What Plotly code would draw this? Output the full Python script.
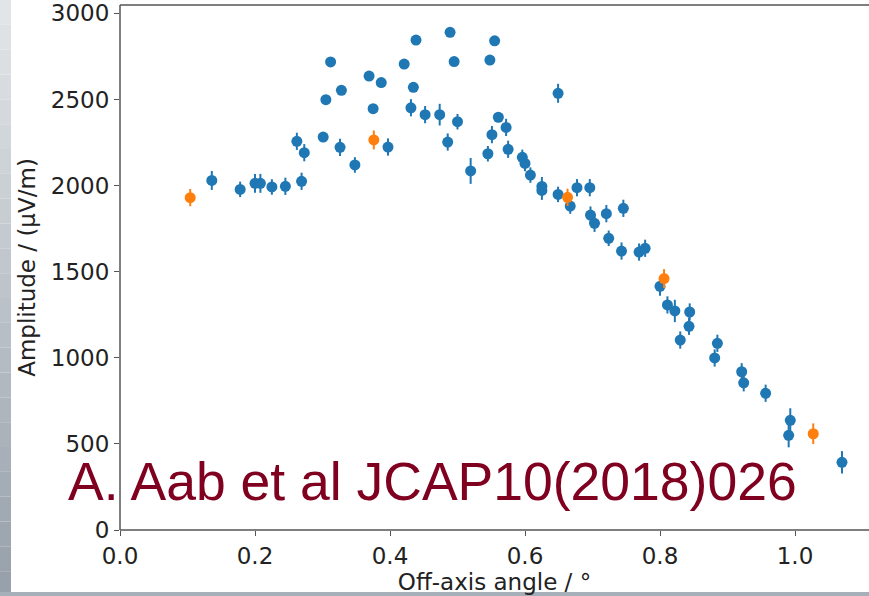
import plotly.graph_objects as go

# ---- data ----
x_blue = [0.136, 0.178, 0.200, 0.208, 0.225, 0.245, 0.269, 0.262, 0.273, 0.301,
          0.305, 0.312, 0.326, 0.328, 0.348, 0.369, 0.375, 0.387, 0.397, 0.421,
          0.431, 0.4346, 0.4385, 0.452, 0.4736, 0.4855, 0.489, 0.495, 0.500, 0.5195,
          0.545, 0.548, 0.551, 0.555, 0.5605, 0.572, 0.575, 0.596, 0.600, 0.608,
          0.625, 0.625, 0.649, 0.649, 0.667, 0.677, 0.696, 0.697, 0.703, 0.7205,
          0.724, 0.743, 0.7457, 0.769, 0.778, 0.800, 0.811, 0.822, 0.830, 0.843,
          0.844, 0.881, 0.885, 0.921, 0.924, 0.9565, 0.9906, 0.993, 1.0696]
y_blue = [2030, 1978, 2013, 2013, 1992, 1996, 2025, 2257, 2191, 2282,
          2499, 2718, 2222, 2553, 2120, 2636, 2447, 2598, 2224, 2706,
          2452, 2571, 2845, 2412, 2412, 2253, 2890, 2720, 2371, 2085,
          2185, 2729, 2296, 2841, 2397, 2338, 2211, 2164, 2129, 2061,
          1995, 1972, 2536, 1949, 1881, 1988, 1988, 1829, 1781, 1837,
          1694, 1620, 1868, 1614, 1636, 1415, 1307, 1272, 1103, 1183,
          1266, 999, 1084, 919, 855, 794, 550, 637, 393]
e_blue = [55, 45, 55, 55, 45, 50, 50, 50, 50, 15,
          15, 15, 50, 15, 45, 15, 15, 15, 50, 15,
          50, 15, 15, 50, 63, 50, 15, 15, 45, 75,
          45, 15, 50, 15, 15, 50, 50, 45, 45, 45,
          55, 55, 55, 45, 45, 50, 50, 50, 50, 50,
          45, 50, 50, 50, 50, 55, 50, 65, 50, 50,
          50, 50, 50, 50, 50, 50, 70, 70, 65]

x_orange = [0.104, 0.376, 0.663, 0.806, 1.027]
y_orange = [1930, 2265, 1932, 1460, 559]
e_orange = [50, 55, 50, 55, 60]

x_ticks = [0.0, 0.2, 0.4, 0.6, 0.8, 1.0]
y_ticks = [0, 500, 1000, 1500, 2000, 2500, 3000]

citation = "A. Aab et al JCAP10(2018)026"

# ---- layout constants ----
W, H = 869, 596
ML, MR, MT, MB = 120, 0, 5, 66
PW, PH = W - ML - MR, H - MT - MB
X_PER_PX = 1 / 675.0
Y_PER_PX = 1 / 0.1722

def px_x(p):  # page pixel -> paper x
    return (p - ML) / PW

def px_y(p):  # page pixel -> paper y
    return (H - MB - p) / PH

BLUE, ORANGE = "#1f77b4", "#ff7f0e"
AXC = "#555"

fig = go.Figure()
for xs, ys, es, col in [(x_blue, y_blue, e_blue, BLUE), (x_orange, y_orange, e_orange, ORANGE)]:
    fig.add_trace(go.Scatter(
        x=xs, y=ys, mode="markers",
        marker=dict(color=col, size=11, line=dict(width=0)),
        error_y=dict(type="data", array=es, visible=True, color=col, thickness=2, width=0),
        showlegend=False, hoverinfo="x+y",
    ))

shapes = []
# left grey strip with vertical gradient
n = 24
for i in range(n):
    t = i / (n - 1)
    c0 = (0xe2, 0xe5, 0xe8)
    c1 = (0x98, 0xa1, 0xab)
    c = tuple(int(a + (b - a) * t) for a, b in zip(c0, c1))
    shapes.append(dict(type="rect", xref="paper", yref="paper", layer="below",
                       x0=px_x(0), x1=px_x(11),
                       y0=px_y(i * H / n + H / n), y1=px_y(i * H / n),
                       fillcolor="rgb(%d,%d,%d)" % c, line=dict(width=0)))
# bottom grey strip
shapes.append(dict(type="rect", xref="paper", yref="paper", layer="below",
                   x0=px_x(0), x1=1, y0=px_y(H), y1=px_y(592),
                   fillcolor="#a7afb8", line=dict(width=0)))
# white cover over the right plot edge (the right spine is cut off in the reference)
shapes.append(dict(type="rect", xref="paper", yref="paper", layer="above",
                   x0=px_x(863), x1=px_x(872), y0=px_y(528.5), y1=px_y(6.5),
                   fillcolor="white", line=dict(width=0)))
# spines: left, bottom, top
for (x0, y0, x1, y1) in [(0, 0, 0, 1), (0, 0, 1, 0), (0, 1, 1, 1)]:
    shapes.append(dict(type="line", xref="paper", yref="paper", layer="above",
                       x0=x0, x1=x1, y0=y0, y1=y1, line=dict(color=AXC, width=1.5)))

fig.update_layout(
    width=W, height=H,
    margin=dict(l=ML, r=MR, t=MT, b=MB, pad=0),
    paper_bgcolor="white", plot_bgcolor="white",
    font=dict(family="DejaVu Sans", size=23, color="#222"),
    shapes=shapes,
    xaxis=dict(range=[0, PW * X_PER_PX], tickvals=x_ticks, tickformat=".1f",
               showgrid=False, zeroline=False, showline=False,
               ticks="outside", ticklen=5, tickwidth=1.2,
               tickcolor=AXC, ticklabelstandoff=0,
               title=dict(text="Off-axis angle / °", standoff=2,
                          font=dict(family="DejaVu Sans", size=23, color="#222"))),
    yaxis=dict(range=[0, PH * Y_PER_PX], tickvals=y_ticks,
               showgrid=False, zeroline=False, showline=False,
               ticks="outside", ticklen=5, tickwidth=1.2,
               tickcolor=AXC, ticklabelstandoff=0,
               title=dict(text="Amplitude / (μV/m)", standoff=8,
                          font=dict(family="DejaVu Sans", size=23, color="#222"))),
    annotations=[dict(text=citation, xref="paper", yref="paper",
                      x=px_x(66), y=px_y(481), xanchor="left", yanchor="middle",
                      showarrow=False,
                      font=dict(family="Liberation Sans", size=53.5, color="#800020"))],
)

fig.write_html("out.html", config={"displayModeBar": False})
